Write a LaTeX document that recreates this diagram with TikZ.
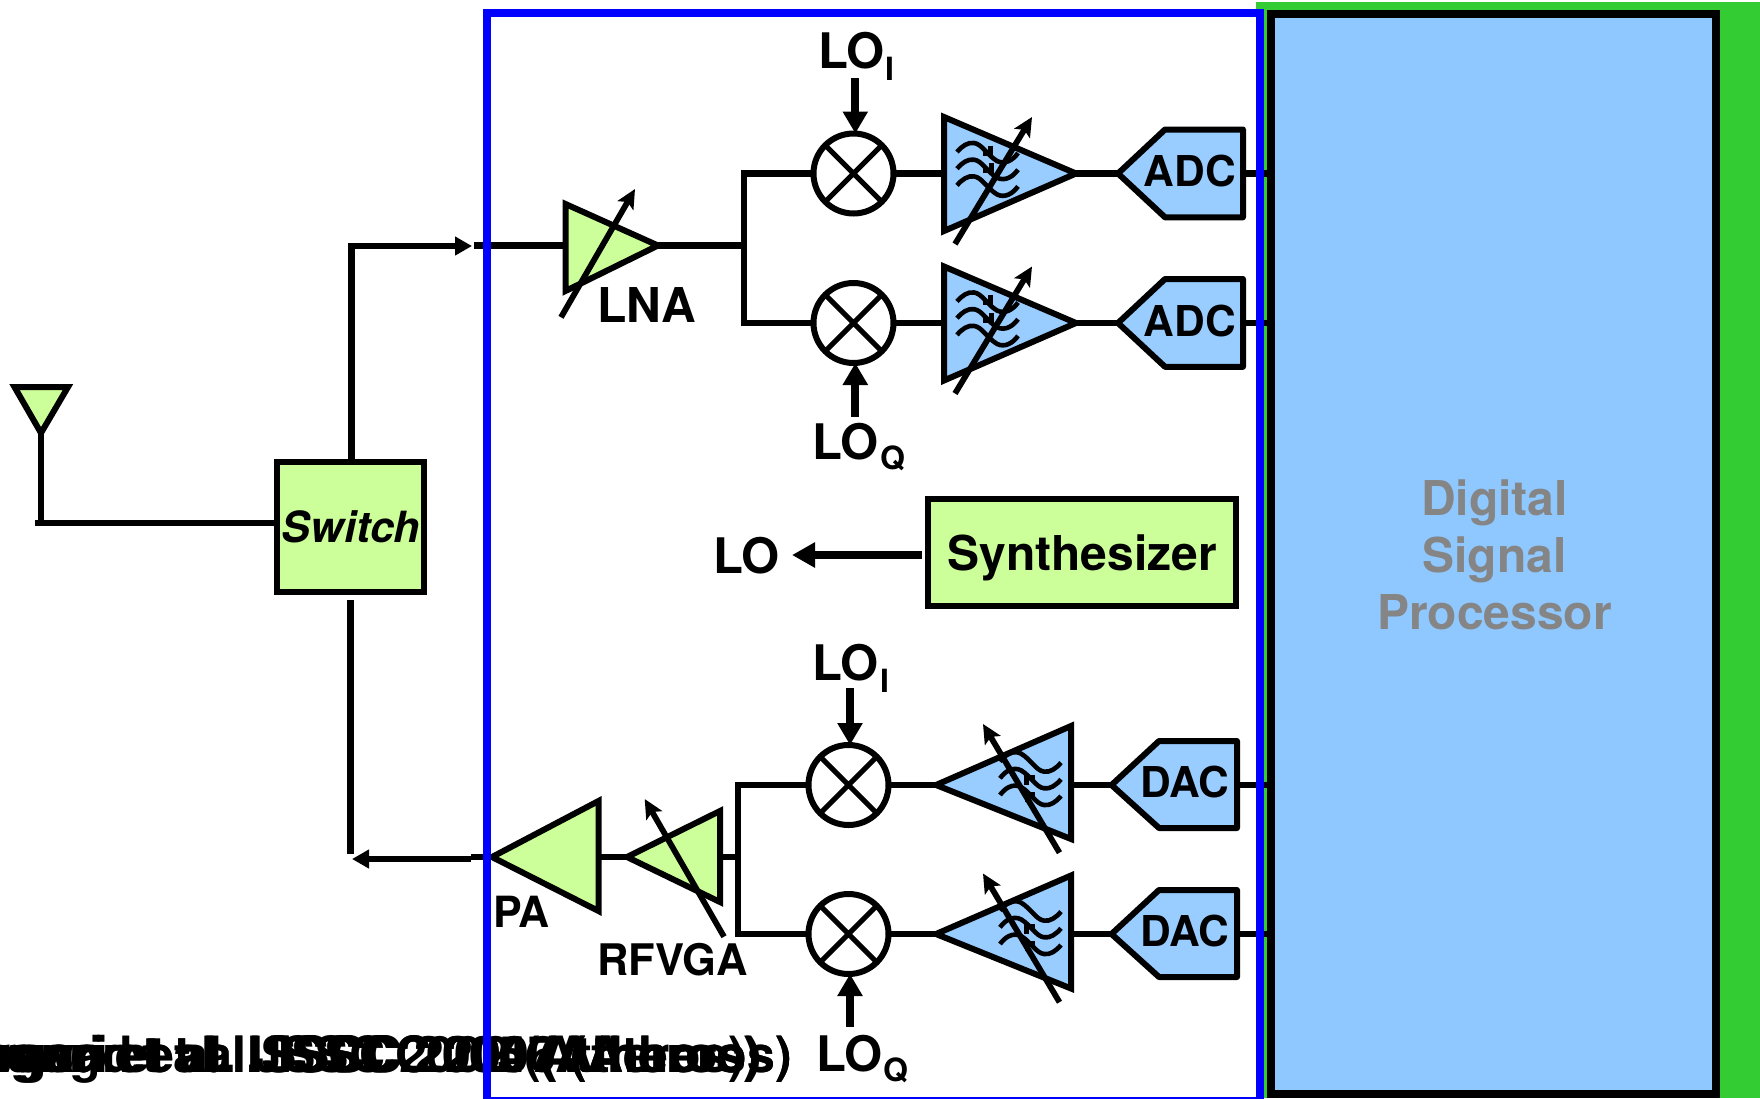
\documentclass[tikz,border=0pt]{standalone}
\usepackage{fontspec}
\setmainfont{TeX Gyre Heros}
\usetikzlibrary{arrows.meta,calc}
\definecolor{grn}{HTML}{CCFF99}
\definecolor{blu}{HTML}{99CCFF}
\definecolor{dspblue}{HTML}{8FC7FF}
\definecolor{bggreen}{HTML}{33CC33}
\definecolor{txtgray}{HTML}{858585}
\newcommand\fs[1]{\fontsize{#1}{#1}\selectfont\bfseries}
\newcommand\wavesym[2]{%
  \begin{scope}[shift={(#1)},rotate=#2,line width=4.6pt]
    \foreach \dy in {0,16.7,33.4}{
      \draw[yshift=-\dy pt] (0,0) .. controls (5,-6) and (11,-10) .. (17,-9) .. controls (25,-8) and (30,3) .. (40,9) .. controls (48,13) and (56,8) .. (61,1);
    }
    \draw (25.7,1.3) -- (36.3,1.3) (33.7,-6.3) -- (33.7,4.7);
    \draw (25.7,18.7) -- (36,18.7) (34.7,11.3) -- (34.7,21.3);
  \end{scope}}
\tikzset{
  x=1pt,y=-1pt,
  wire/.style={line width=6.6pt,line join=miter},
  thinwire/.style={line width=5.8pt,line join=miter},
  lotip/.style={line width=8pt,-{Triangle[length=22pt,width=24pt]}},
  sigtip/.style={line width=6.2pt,-{Triangle[length=17pt,width=18pt]}},
  tune/.style={line width=5.8pt,-{Stealth[length=19pt,width=18pt,inset=4pt]}},
  ampgreen/.style={draw=black,fill=grn,line width=6pt,miter limit=10},
  ampblue/.style={draw=black,fill=blu,line width=6pt,miter limit=10},
  conv/.style={draw=black,fill=blu,line width=6pt,line join=round},
  mixer/.style={circle,draw=black,fill=white,line width=6pt,minimum size=80pt,inner sep=0pt,outer sep=0pt},
  boxgreen/.style={rectangle,draw=black,fill=grn,line width=6.4pt,inner sep=0pt,outer sep=0pt},
  lab/.style={inner sep=0pt,outer sep=0pt,anchor=base west,text=black},
  labc/.style={inner sep=0pt,outer sep=0pt,anchor=base,text=black},
  mixcross/.style={line width=5pt},
}
\begin{document}
\begin{tikzpicture}
\clip (0,0) rectangle (1760,1098);
\fill[white] (0,0) rectangle (1760,1098);
\fill[bggreen] (1256,2) rectangle (1760,1098);
\node[rectangle,draw=black,fill=dspblue,line width=8pt,inner sep=0pt,outer sep=0pt,minimum width=445pt,minimum height=1079.5pt] (dsp) at (1493.5,553.75) {};
\node[labc,text=txtgray] (dsp1) at (1494.5,515) {\fs{48}Digital};
\node[labc,text=txtgray] (dsp2) at (1494.5,572.7) {\fs{48}Signal};
\node[labc,text=txtgray] (dsp3) at (1494.5,629.3) {\fs{48}Processor};

% coordinates
\coordinate (ant1) at (14.5,387); \coordinate (ant2) at (68,387); \coordinate (ant3) at (41,433);
\coordinate (antfoot) at (41,523); \coordinate (antstart) at (35,523);
\node[boxgreen,minimum width=147pt,minimum height=130pt] (sw) at (350.5,527) {};
\node[boxgreen,minimum width=308pt,minimum height=107pt] (syn) at (1082,552.5) {};
\coordinate (rxin) at (474,245.5); \coordinate (rxcorner) at (351.5,246); \coordinate (rxtip) at (472,246);
\coordinate (lna1) at (565.5,204); \coordinate (lna2) at (565.5,291); \coordinate (lna3) at (658,245.5);
\coordinate (rxj) at (744,245.5);
\node[mixer] (m1) at (853.5,173.5) {};
\node[mixer] (m2) at (853.5,323) {};
\node[mixer] (m3) at (848.5,785) {};
\node[mixer] (m4) at (848.5,934) {};
\coordinate (f1a) at (944,117); \coordinate (f1b) at (944,231); \coordinate (f1t) at (1076,173.5);
\coordinate (f2a) at (944,266.5); \coordinate (f2b) at (944,380.5); \coordinate (f2t) at (1076,323);
\coordinate (f3a) at (1071,726); \coordinate (f3b) at (1071,839); \coordinate (f3t) at (936,785);
\coordinate (f4a) at (1071,875.5); \coordinate (f4b) at (1071,988.5); \coordinate (f4t) at (936,934);
\coordinate (a1l) at (1118,173.5); \coordinate (a1r) at (1243,173.5);
\coordinate (a2l) at (1118,323); \coordinate (a2r) at (1243,323);
\coordinate (d1l) at (1111.5,785); \coordinate (d1r) at (1237,785);
\coordinate (d2l) at (1111.5,934); \coordinate (d2r) at (1237,934);
\coordinate (pa1) at (598.5,801); \coordinate (pa2) at (598.5,911); \coordinate (pa3) at (492,857);
\coordinate (vg1) at (720,811); \coordinate (vg2) at (720,902); \coordinate (vg3) at (627,857);
\coordinate (txj) at (738,857);
\coordinate (txstart) at (471,859); \coordinate (txtip) at (352,859);
\coordinate (txv) at (350.5,600); \coordinate (txvend) at (350.5,854);
\coordinate (pastub) at (471,857);

% wires
\draw[thinwire] (ant3) -- (antfoot);
\draw[wire] (antstart) -- (sw.west |- antstart);
\draw[sigtip] (sw.north -| rxcorner) -- (rxcorner) -- (rxtip);
\draw[wire] (rxin) -- (lna1 |- rxin);
\draw[wire] (lna3) -- (rxj);
\draw[wire] (m1.west) -- (rxj |- m1.west) -- (rxj |- m2.west) -- (m2.west);
\draw[wire] (m1.east) -- (f1a |- f1t);
\draw[wire] (m2.east) -- (f2a |- f2t);
\draw[wire] (f1t) -- (a1l); \draw[wire] (f2t) -- (a2l);
\draw[wire] (a1r) -- (a1r -| dsp.west); \draw[wire] (a2r) -- (a2r -| dsp.west);
\draw[wire] (m3.west) -- (txj |- m3.west) -- (txj |- m4.west) -- (m4.west);
\draw[wire] (vg1 |- txj) -- (txj);
\draw[wire] (pa1 |- pa3) -- (vg3);
\draw[wire] (m3.east) -- (f3t); \draw[wire] (m4.east) -- (f4t);
\draw[wire] (f3a |- f3t) -- (d1l); \draw[wire] (f4a |- f4t) -- (d2l);
\draw[wire] (d1r) -- (d1r -| dsp.west); \draw[wire] (d2r) -- (d2r -| dsp.west);
\draw[wire] (pa3) -- (pastub);
\draw[wire] (txv) -- (txvend);
\draw[sigtip,line width=5.4pt] (txstart) -- (txtip);

% antenna
\draw[ampgreen] (ant1) -- (ant2) -- (ant3) -- cycle;

% amplifiers
\draw[ampgreen] (lna1) -- (lna2) -- (lna3) -- cycle;
\coordinate (t0a) at (561,317.3); \coordinate (t0b) at (635,189);
\draw[tune] (t0a) -- (t0b);
\draw[ampgreen] (pa1) -- (pa2) -- (pa3) -- cycle;
\draw[ampgreen] (vg1) -- (vg2) -- (vg3) -- cycle;
\coordinate (t5a) at (724,936.7); \coordinate (t5b) at (644.7,799);
\draw[tune] (t5a) -- (t5b);

% mixer crosses
\foreach \m in {m1,m2,m3,m4}{
  \draw[mixcross] (\m.45) -- (\m.225) (\m.135) -- (\m.315);
}

% filters
\draw[ampblue] (f1a) -- (f1b) -- (f1t) -- cycle;
\draw[ampblue] (f2a) -- (f2b) -- (f2t) -- cycle;
\draw[ampblue] (f3a) -- (f3b) -- (f3t) -- cycle;
\draw[ampblue] (f4a) -- (f4b) -- (f4t) -- cycle;
\wavesym{957,152}{0}
\wavesym{957,301.5}{0}
\wavesym{1061,796}{180}
\wavesym{1061,945}{180}
\coordinate (t1a) at (955,244); \coordinate (t1b) at (1032,117);
\coordinate (t2a) at (955,393.5); \coordinate (t2b) at (1032,266.5);
\coordinate (t3a) at (1059.5,852.7); \coordinate (t3b) at (983,724);
\coordinate (t4a) at (1059.5,1002.2); \coordinate (t4b) at (983,873.5);
\draw[tune] (t1a) -- (t1b);
\draw[tune] (t2a) -- (t2b);
\draw[tune] (t3a) -- (t3b);
\draw[tune] (t4a) -- (t4b);

% converters
\draw[conv] (a1l) -- (1165,129.5) -- (1243,129.5) -- (1243,217.3) -- (1165,217.3) -- cycle;
\draw[conv] (a2l) -- (1165,279) -- (1243,279) -- (1243,366.8) -- (1165,366.8) -- cycle;
\draw[conv] (d1l) -- (1159,741) -- (1237,741) -- (1237,828) -- (1159,828) -- cycle;
\draw[conv] (d2l) -- (1159,890) -- (1237,890) -- (1237,977) -- (1159,977) -- cycle;
\node[labc] (adc1) at (1190,186.7) {\fs{42.5}ADC};
\node[labc] (adc2) at (1190,336) {\fs{42.5}ADC};
\node[labc] (dac1) at (1185,797.3) {\fs{42.5}DAC};
\node[labc] (dac2) at (1185,946.7) {\fs{42.5}DAC};

% LO arrows
\coordinate (lo1s) at (855.3,78); \coordinate (lo2s) at (855.3,416.7);
\coordinate (lo3s) at (850,688); \coordinate (lo4s) at (850,1026.7);
\draw[lotip] (lo1s) -- (lo1s |- m1.north);
\draw[lotip] (lo2s) -- (lo2s |- m2.south);
\draw[lotip] (lo3s) -- (lo3s |- m3.north);
\draw[lotip] (lo4s) -- (lo4s |- m4.south);
\coordinate (lotip) at (792,555);
\draw[line width=8.4pt,-{Triangle[length=23pt,width=24pt]}] (922,555) -- (lotip);

% labels
\node[lab] (loi1) at (818,68.3) {\fs{49}LO};
\node[lab] (loi1s) at (885,80.7) {\fs{32}I};
\node[lab] (loq1) at (812.5,459) {\fs{49}LO};
\node[lab] (loq1s) at (880,469) {\fs{32}Q};
\node[lab] (loi2) at (812.5,680.7) {\fs{49}LO};
\node[lab] (loi2s) at (880,692) {\fs{32}I};
\node[lab] (loq2) at (816,1071.7) {\fs{49}LO};
\node[lab] (loq2s) at (883,1081.7) {\fs{32}Q};
\node[lab] (lolab) at (713,573) {\fs{49}LO};
\node[labc] (syntxt) at (1082,570.7) {\fs{48}Synthesizer};
\node[labc] (swtxt) at (351,542.7) {\fontsize{43}{43}\selectfont\bfseries\itshape Switch};
\node[lab] (lnatxt) at (597.5,322.7) {\fs{48}LNA};
\node[lab] (patxt) at (493,927) {\fs{43}PA};
\node[lab] (rfv) at (597.5,975) {\fs{43.5}RFVGA};

% overlapping reference lines
\foreach \n/\t/\cx in {r1/Zargari et al. JSSC 2002 (Atheros)/342,r2/Zargari et al. ISSCC 2004 (Atheros)/348,r3/Zhang et al. ISSCC 2005 (Atheros)/356,r4/Srinivasan et al. ISSCC 2006 (Atheros)/336,r5/Nathawad et al. ISSCC 2007 (Atheros)/344}{
  \node[labc] (\n) at (\cx,1072) {\fs{50}\t};
}

% blue frame on top
\draw[draw=blue,line width=8pt] (487,13) rectangle (1260,1101);
\end{tikzpicture}
\end{document}
